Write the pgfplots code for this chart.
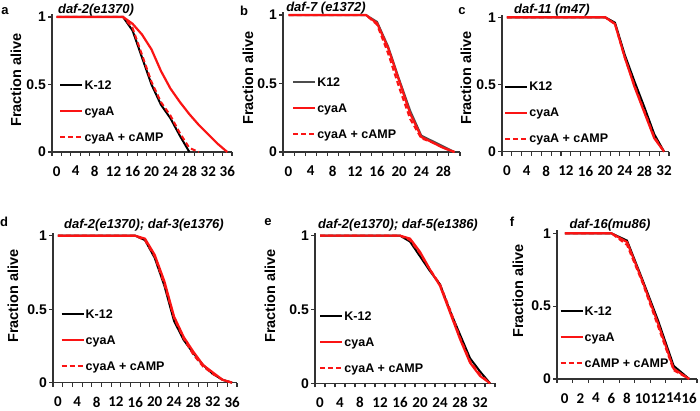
\documentclass[border=0pt]{standalone}
\usepackage{fontspec}
\setmainfont{Liberation Sans}
\newfontfamily\calib{Carlito}
\usepackage{pgfplots}
\pgfplotsset{compat=1.18}
\definecolor{myred}{RGB}{250,20,20}
\pgfplotsset{
 panel/.style={
  scale only axis, anchor=south west, clip=false,
  axis x line*=bottom, axis y line*=left,
  axis line style={line width=1.4pt, black!80},
  ymin=0, ymax=1.02, ytick={0,0.5,1}, xmin=-1,
  tick align=outside, major tick length=4pt, minor tick length=4pt,
  tick style={line width=1.1pt, black!80},
  /pgf/number format/assume math mode=true,
  yticklabel style={font=\fontsize{14}{14}\selectfont\bfseries, inner sep=0pt, xshift=-2pt},
  xticklabel style={font=\fontsize{15}{15}\selectfont\calib\bfseries, inner sep=0pt, yshift=-10pt},
  legend cell align=left,
  legend style={draw=none, fill=none, anchor=west, inner sep=0pt, row sep=13.5pt,
    font=\fontsize{12.5}{13}\selectfont\bfseries,
    nodes={inner sep=1pt, text height=9.5pt, text depth=1pt},
    /tikz/column 2/.style={column sep=0pt}},
  legend image code/.code={\draw[##1] (0pt,0pt) -- (22pt,0pt);},
 },
 k12/.style={black, line width=2pt},
 cya/.style={myred, line width=2.2pt},
 camp/.style={myred, line width=2pt, dash pattern=on 5pt off 3pt},
}
\begin{document}
\begin{tikzpicture}
\useasboundingbox (0pt,0pt) rectangle (700pt,411pt);
% ---------------- a
\begin{axis}[panel, at={(52pt,259pt)}, width=180pt, height=137.7pt, xmax=37,
  xtick={-1,1,...,37}, xticklabels={0,,4,,8,,12,,16,,20,,24,,28,,32,,36,},
  xticklabel style={xshift=4.74pt},
  legend style={at={(axis cs:0.5,0.304)}}]
\addplot[k12] coordinates {(0,1)(14,1)(16,0.9)(18,0.7)(20,0.5)(22,0.35)(24,0.25)(26,0.12)(28,0)};
\addplot[cya] coordinates {(0,1)(14,1)(16,0.95)(18,0.87)(20,0.76)(22,0.6)(24,0.47)(26,0.37)(28,0.28)(30,0.2)(32,0.13)(34,0.06)(36,0)};
\addplot[camp] coordinates {(0,1)(14,1)(16,0.92)(18,0.72)(20,0.52)(22,0.37)(24,0.27)(26,0.14)(28,0.03)(30,0)};
\legend{K-12,cyaA,cyaA + cAMP}
\end{axis}
% ---------------- b
\begin{axis}[panel, at={(283pt,259pt)}, width=177pt, height=139.7pt, xmax=31,
  xtick={-1,1,...,31}, xticklabels={0,,4,,8,,12,,16,,20,,24,,28,},
  xticklabel style={xshift=5.53pt},
  legend style={at={(axis cs:0.6,0.321)}}]
\addplot[k12, black!70] coordinates {(0,1)(14,1)(16,0.95)(18,0.77)(20,0.53)(22,0.3)(24,0.12)(26,0.08)(28,0.04)(30,0)};
\addplot[cya] coordinates {(0,1)(14,1)(16,0.94)(18,0.76)(20,0.52)(22,0.28)(24,0.11)(26,0.07)(28,0.03)(30,0)};
\addplot[camp] coordinates {(0,1)(14,1)(16,0.93)(18,0.72)(20,0.47)(22,0.24)(24,0.1)(26,0.07)(28,0.03)(30,0)};
\legend{K12,cyaA,cyaA + cAMP}
\end{axis}
% ---------------- c
\begin{axis}[panel, at={(502pt,259.3pt)}, width=167pt, height=137.1pt, xmax=33,
  xtick={-1,1,...,33}, xticklabels={0,,4,,8,,12,,16,,20,,24,,28,,32,},
  xticklabel style={xshift=4.91pt},
  legend style={at={(axis cs:-0.6,0.29)}}]
\addplot[k12] coordinates {(0,1)(20,1)(22,0.96)(24,0.72)(26,0.52)(28,0.33)(30,0.13)(32,0)};
\addplot[cya] coordinates {(0,1)(20,1)(22,0.95)(24,0.7)(26,0.48)(28,0.29)(30,0.1)(32,0)};
\addplot[camp] coordinates {(0,1)(20,1)(22,0.95)(24,0.7)(26,0.49)(28,0.3)(30,0.11)(32,0)};
\legend{K12,cyaA,cyaA + cAMP}
\end{axis}
% ---------------- d
\begin{axis}[panel, at={(53pt,28.3pt)}, width=184pt, height=149.9pt, xmax=37,
  xtick={-1,1,...,37}, xticklabels={0,,4,,8,,12,,16,,20,,24,,28,,32,,36,},
  xticklabel style={xshift=4.84pt},
  legend style={at={(axis cs:0.5,0.29)}}]
\addplot[k12] coordinates {(0,1)(16,1)(18,0.97)(20,0.85)(22,0.66)(24,0.42)(26,0.29)(28,0.2)(30,0.12)(32,0.06)(34,0.02)(36,0)};
\addplot[cya] coordinates {(0,1)(16,1)(18,0.98)(20,0.87)(22,0.69)(24,0.45)(26,0.31)(28,0.21)(30,0.12)(32,0.07)(34,0.02)(36,0)};
\addplot[camp] coordinates {(0,1)(16,1)(18,0.97)(20,0.86)(22,0.67)(24,0.44)(26,0.3)(28,0.19)(30,0.11)(32,0.06)(34,0.02)(36,0)};
\legend{K-12,cyaA,cyaA + cAMP}
\end{axis}
% ---------------- e
\begin{axis}[panel, at={(315pt,27.7pt)}, width=180pt, height=150.6pt, xmax=35,
  xtick={-1,1,...,35}, xticklabels={0,,4,,8,,12,,16,,20,,24,,28,,32,},
  xticklabel style={xshift=5pt},
  legend style={at={(axis cs:-0.2,0.278)}}]
\addplot[k12] coordinates {(0,1)(16,1)(18,0.96)(20,0.86)(22,0.76)(24,0.67)(26,0.49)(28,0.33)(30,0.17)(32,0.08)(34,0)};
\addplot[cya] coordinates {(0,1)(16,1)(18,0.98)(20,0.89)(22,0.77)(24,0.66)(26,0.48)(28,0.3)(30,0.14)(32,0.05)(34,0)};
\addplot[camp] coordinates {(0,1)(16,1)(18,0.97)(20,0.88)(22,0.77)(24,0.67)(26,0.5)(28,0.31)(30,0.15)(32,0.06)(34,0)};
\legend{K-12,cyaA,cyaA + cAMP}
\end{axis}
% ---------------- f
\begin{axis}[panel, at={(557pt,32pt)}, width=140pt, height=148.6pt, xmax=17,
  xtick={-1,1,...,17}, xticklabels={0,2,4,6,8,10,12,14,16,},
  xticklabel style={xshift=7.78pt},
  legend style={at={(axis cs:-0.7,0.288)}}]
\addplot[k12] coordinates {(0,1)(6,1)(8,0.95)(10,0.68)(12,0.4)(14,0.09)(16,0)};
\addplot[cya] coordinates {(0,1)(6,1)(8,0.94)(10,0.67)(12,0.38)(14,0.07)(16,0)};
\addplot[camp] coordinates {(0,1)(6,1)(8,0.92)(10,0.66)(12,0.36)(14,0.06)(16,0)};
\legend{K-12,cyaA,cAMP + cAMP}
\end{axis}
% titles and letters
\begin{scope}[every node/.style={font=\fontsize{13}{13}\selectfont\bfseries\itshape}]
\node at (96pt,401pt) {daf-2(e1370)};
\node at (326pt,403pt) {daf-7 (e1372)};
\node at (552pt,401pt) {daf-11 (m47)};
\node at (144pt,186pt) {daf-2(e1370); daf-3(e1376)};
\node at (398pt,186pt) {daf-2(e1370); daf-5(e1386)};
\node at (610pt,186pt) {daf-16(mu86)};
\end{scope}
\begin{scope}[every node/.style={font=\fontsize{13}{13}\selectfont\bfseries}]
\node at (5pt,400pt) {a};
\node at (244pt,400pt) {b};
\node at (462pt,400pt) {c};
\node at (4pt,189pt) {d};
\node at (268pt,189pt) {e};
\node at (512pt,189pt) {f};
\end{scope}
\begin{scope}[every node/.style={rotate=90, font=\fontsize{14.5}{14.5}\selectfont\bfseries}]
\node at (16pt,331pt) {Fraction alive};
\node at (248pt,333pt) {Fraction alive};
\node at (466pt,333pt) {Fraction alive};
\node at (13pt,115pt) {Fraction alive};
\node at (270pt,115pt) {Fraction alive};
\node at (518pt,120pt) {Fraction alive};
\end{scope}
\end{tikzpicture}
\end{document}
